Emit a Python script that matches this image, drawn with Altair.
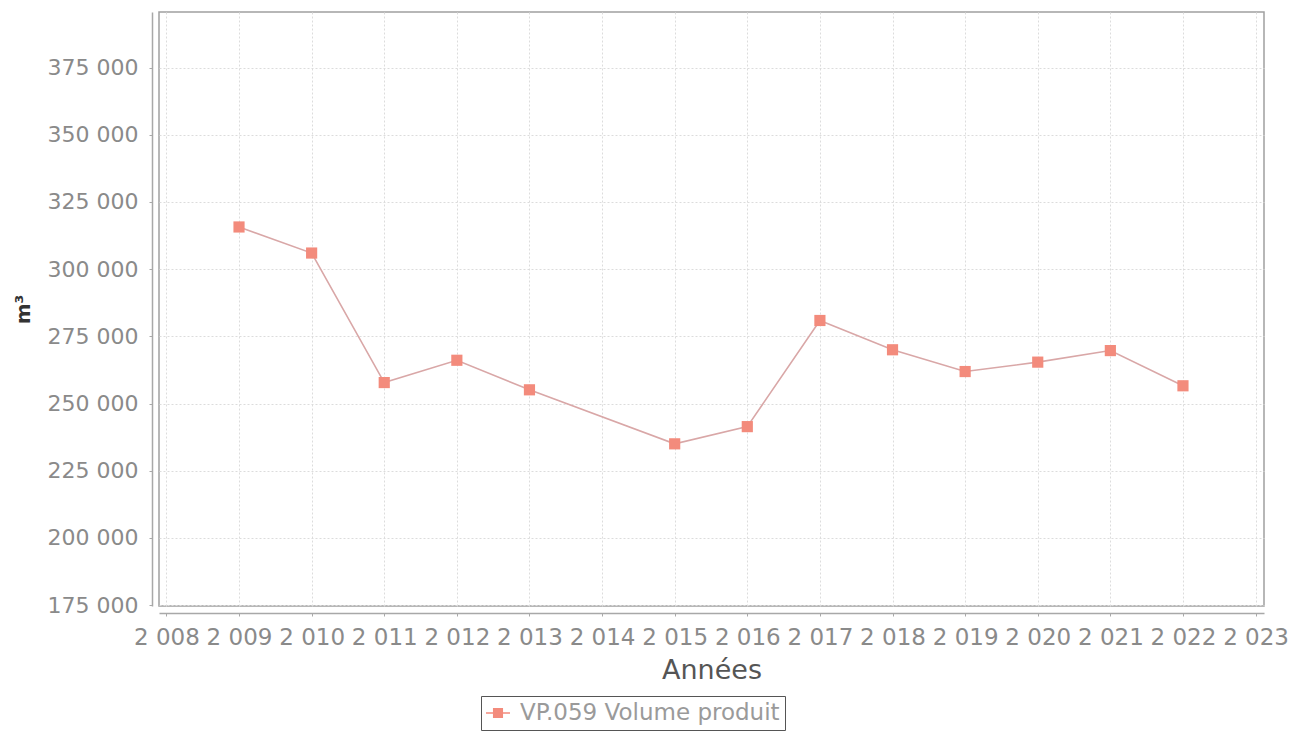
import altair as alt
import pandas as pd

years = [2009, 2010, 2011, 2012, 2013, 2015, 2016, 2017, 2018, 2019, 2020, 2021, 2022]
volumes = [315700, 306000, 257800, 266100, 255100, 235000, 241400, 280900, 270000, 261900, 265400, 269700, 256600]
series_name = "VP.059 Volume produit"
x_ticks = list(range(2008, 2024))
y_ticks = list(range(175000, 375001, 25000))

df = pd.DataFrame({"annee": years, "volume": volumes, "serie": [series_name] * len(years)})

FONT = "DejaVu Sans"
AX = "#a8a8a8"

x_enc = alt.X(
    "annee:Q",
    scale=alt.Scale(domain=[2007.898, 2023.116], nice=False, zero=False),
    axis=alt.Axis(
        title="Années",
        values=x_ticks,
        labelExpr="substring(toString(datum.value),0,1) + ' ' + substring(toString(datum.value),1)",
        offset=7,
        labelPadding=10,
        titlePadding=8,
        labelFontSize=23,
        titleFontSize=27,
        labelOverlap=False,
        labelFlush=False,
    ),
)
y_enc = alt.Y(
    "volume:Q",
    scale=alt.Scale(domain=[174650, 395700], nice=False, zero=False),
    axis=alt.Axis(
        title="m³",
        values=y_ticks,
        labelExpr="format(floor(datum.value/1000),'d') + ' 000'",
        offset=7,
        labelPadding=11,
        titlePadding=14,
        labelFontSize=22,
        titleFontSize=20,
        titleFontWeight="bold",
        titleColor="#333333",
    ),
)

line = alt.Chart(df).mark_line(color="#d9a7a7", strokeWidth=1.6).encode(x=x_enc, y=y_enc)

square_path = "M-1,-0.07 L1,-0.07 L1,0.07 L-1,0.07 Z M-0.42,-0.42 L0.42,-0.42 L0.42,0.42 L-0.42,0.42 Z"

points = alt.Chart(df).mark_point(shape="square", filled=True, size=125, opacity=1).encode(
    x=x_enc,
    y=y_enc,
    color=alt.Color(
        "serie:N",
        scale=alt.Scale(domain=[series_name], range=["#f38b7c"]),
        legend=alt.Legend(
            title=None,
            orient="none",
            legendX=322,
            legendY=684,
            direction="horizontal",
            symbolType=square_path,
            symbolSize=576,
            symbolStrokeWidth=0,
            labelFontSize=23,
            labelColor="#9a9a9a",
            labelFont=FONT,
            labelOffset=10,
            labelLimit=500,
            padding=5,
            strokeColor="#555555",
            fillColor="white",
            cornerRadius=0,
        ),
    ),
)

chart = (
    alt.layer(line, points)
    .properties(
        width=1105,
        height=594,
        autosize=alt.AutoSizeParams(type="none"),
        padding={"left": 151, "top": 4, "right": 35, "bottom": 125},
    )
    .configure_view(stroke="#a0a0a0", strokeWidth=1.5, fill="white")
    .configure_axis(
        labelFont=FONT,
        titleFont=FONT,
        labelColor="#8a8a8a",
        titleColor="#555555",
        titleFontWeight="normal",
        domainColor=AX,
        domainWidth=1.5,
        tickColor=AX,
        tickSize=3,
        gridColor="#dcdcdc",
        gridDash=[2, 2],
        gridWidth=1,
    )
)

chart.save("out.html", embed_options={"renderer": "svg", "actions": False})
